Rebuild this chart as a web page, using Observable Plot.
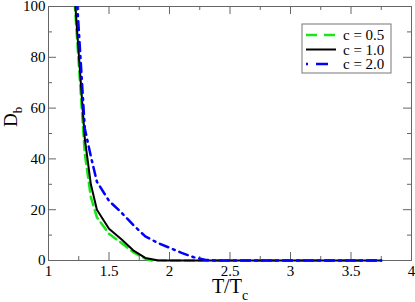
<!DOCTYPE html>
<html><head><meta charset="utf-8">
<script src="https://cdn.jsdelivr.net/npm/d3@7"></script>
<script src="https://cdn.jsdelivr.net/npm/@observablehq/plot@0.6"></script>
<style>body{margin:0;background:#fff} svg{display:block} svg text{font-family:"Liberation Serif","DejaVu Serif",serif}</style>
</head><body><div id="chart"></div>
<script>
// ---- data ----
const seriesNames = ["c = 0.5", "c = 1.0", "c = 2.0"];
const tC05 = [1.2, 1.3, 1.35, 1.4, 1.5, 1.6, 1.7, 1.8, 1.85, 2.0, 2.5, 3.0, 3.5, 3.75];
const dC05 = [113, 42, 25, 17, 10.5, 7, 3.3, 0.7, 0, 0, 0, 0, 0, 0];
const tC10 = [1.2, 1.3, 1.35, 1.4, 1.5, 1.6, 1.7, 1.8, 1.9, 2.0, 2.5, 3.0, 3.5, 3.75];
const dC10 = [115, 48, 30, 20, 12.5, 8.5, 4, 1, 0.1, 0, 0, 0, 0, 0];
const tC20 = [1.2, 1.3, 1.35, 1.4, 1.5, 1.6, 1.7, 1.8, 1.9, 2.0, 2.1, 2.2, 2.3, 2.4, 2.5, 3.0, 3.5, 3.75];
const dC20 = [130, 52, 41, 31, 23.5, 19, 14, 9.5, 7, 5, 3, 1.3, 0.2, 0, 0, 0, 0, 0];
const xMajor = [1, 1.5, 2, 2.5, 3, 3.5, 4];
const xMinor = [1.25, 1.75, 2.25, 2.75, 3.25, 3.75];
const yMajor = [0, 20, 40, 60, 80, 100];
const yMinor = [10, 30, 50, 70, 90];
const xTitle = ["T/T", "c"];
const yTitle = ["D", "b"];

// ---- styles ----
const colors = ["#19e619", "#000000", "#0000ff"];
const dashes = ["9,5", null, "2,5,9,5"];
const legendDashes = ["11,7", null, "2,8,12,8"];
const widths = [2.5, 2, 2.5];
const W = 415, H = 302, mL = 48, mR = 4, mT = 6, mB = 42;
const innerW = W - mL - mR, innerH = H - mT - mB;
const frameColor = "#666";
const serif = "Liberation Serif, DejaVu Serif, serif";

const toRows = (ts, ds) => ts.map((t, i) => ({T: t, D: ds[i]}));
const seriesData = [toRows(tC05, dC05), toRows(tC10, dC10), toRows(tC20, dC20)];

const lineMarks = seriesData.map((rows, i) => Plot.line(rows, {
  x: "T", y: "D", stroke: colors[i], strokeWidth: widths[i],
  strokeDasharray: dashes[i], clip: true
}));

const plot = Plot.plot({
  width: W, height: H,
  marginLeft: mL, marginRight: mR, marginTop: mT, marginBottom: mB,
  style: {fontFamily: serif, fontSize: "15px", background: "#fff", color: "#000"},
  x: {domain: [1, 4]},
  y: {domain: [0, 100]},
  marks: [
    Plot.frame({stroke: frameColor}),
    // inward ticks: bottom/top, left/right
    Plot.tickX(xMajor, {stroke: frameColor, insetTop: innerH - 8}),
    Plot.tickX(xMajor, {stroke: frameColor, insetBottom: innerH - 8}),
    Plot.tickX(xMinor, {stroke: frameColor, insetTop: innerH - 4}),
    Plot.tickX(xMinor, {stroke: frameColor, insetBottom: innerH - 4}),
    Plot.tickY(yMajor, {stroke: frameColor, insetRight: innerW - 8}),
    Plot.tickY(yMajor, {stroke: frameColor, insetLeft: innerW - 8}),
    Plot.tickY(yMinor, {stroke: frameColor, insetRight: innerW - 4}),
    Plot.tickY(yMinor, {stroke: frameColor, insetLeft: innerW - 4}),
    Plot.axisX({ticks: xMajor, tickSize: 0, tickPadding: 5, tickFormat: d => String(d), label: null}),
    Plot.axisY({ticks: yMajor, tickSize: 0, tickPadding: 3, tickFormat: d => String(d), label: null}),
    ...lineMarks
  ]
});

document.getElementById("chart").appendChild(plot);
const svg = d3.select(plot);
// let the lines lying on zero show their full width
svg.selectAll("clipPath rect").each(function() {
  const h = +this.getAttribute("height");
  if (!isNaN(h)) this.setAttribute("height", h + 3);
});

// x title
const xt = svg.append("text").attr("x", 230).attr("y", 293).attr("text-anchor", "middle")
  .attr("font-family", serif).attr("font-size", 20).attr("fill", "#000");
xt.append("tspan").text(xTitle[0]);
xt.append("tspan").attr("dy", 7).attr("font-size", 14).text(xTitle[1]);
// y title
const yt = svg.append("text").attr("transform", "translate(17,127) rotate(-90)").attr("text-anchor", "start")
  .attr("font-family", serif).attr("font-size", 19).attr("fill", "#000");
yt.append("tspan").text(yTitle[0]);
yt.append("tspan").attr("dy", 5).attr("font-size", 13).text(yTitle[1]);

// legend
const lg = svg.append("g");
lg.append("rect").attr("x", 302).attr("y", 24).attr("width", 89).attr("height", 49)
  .attr("fill", "#fff").attr("stroke", "#777").attr("stroke-width", 1);
seriesNames.forEach((name, i) => {
  const y = 35 + i * 14.5;
  lg.append("line").attr("x1", 306).attr("x2", 336).attr("y1", y).attr("y2", y)
    .attr("stroke", colors[i]).attr("stroke-width", widths[i])
    .attr("stroke-dasharray", legendDashes[i]);
  lg.append("text").attr("x", 343).attr("y", y + 5).attr("text-anchor", "start")
    .attr("font-family", serif).attr("font-size", 15).attr("fill", "#000").text(name);
});
</script>
</body></html>
